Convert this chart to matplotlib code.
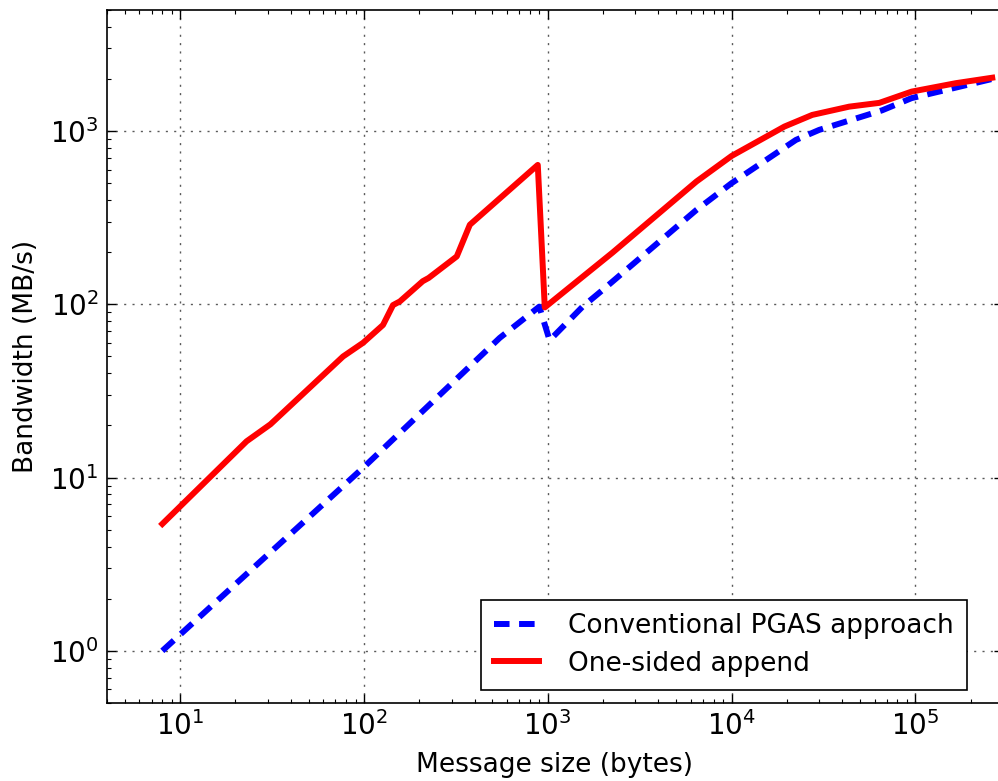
"""Bandwidth vs message size: conventional PGAS vs one-sided append."""

import matplotlib

matplotlib.use("Agg")
import matplotlib.pyplot as plt

FONT_SIZE = 19
TICK_SIZE = 20
DPI = 100

# values (bytes, MB/s)
append_sizes = [8, 23, 31, 77, 99, 127, 144, 157, 209, 225, 320, 377, 883,
                964, 2254, 6450, 10000, 19400, 27500, 43700, 63700, 95500,
                166000, 262144]
append_bw = [5.4, 16.2, 20.3, 50, 60, 76, 99, 104, 136, 142, 189, 288, 638,
             96, 199, 512, 718, 1062, 1240, 1384, 1455, 1690, 1890, 2033]

pgas_sizes = [8, 100, 548, 900, 1024, 1549, 1990, 6450, 10000, 22400, 30000,
              66000, 95500, 262144]
pgas_bw = [1.0, 11.5, 64, 97, 62, 97, 121, 351, 500, 889, 1016, 1318, 1550,
           2000]

plt.rcParams["font.family"] = "DejaVu Sans"
plt.rcParams["font.size"] = FONT_SIZE
plt.rcParams["mathtext.fontset"] = "dejavusans"

fig = plt.figure(figsize=(9.98, 7.81), dpi=DPI)
ax = fig.add_axes([0.1072, 0.0999, 0.8978, 0.8873])

ax.plot(pgas_sizes, pgas_bw, color="#0000ff", linewidth=4.3,
        dashes=(2.6, 1.6), dash_capstyle="butt",
        label="Conventional PGAS approach")
ax.plot(append_sizes, append_bw, color="#ff0000", linewidth=4.3,
        solid_joinstyle="round", label="One-sided append")

ax.set_xscale("log")
ax.set_yscale("log")
ax.set_xlim(4, 3.0e5)
ax.set_ylim(0.5, 5000)

ax.grid(True, which="major", color="0.35", linestyle=(0, (1.5, 4.5)),
        linewidth=1.0)
ax.tick_params(which="both", direction="in", top=True, right=True,
               labelsize=TICK_SIZE)
ax.tick_params(which="major", length=6.5, width=1, pad=6)
ax.tick_params(which="minor", length=3, width=0.8)
for spine in ax.spines.values():
    spine.set_linewidth(1.2)

ax.set_xlabel("Message size (bytes)", fontsize=FONT_SIZE, labelpad=8)
ax.set_ylabel("Bandwidth (MB/s)", fontsize=FONT_SIZE, labelpad=8)

leg = ax.legend(loc="lower right", bbox_to_anchor=(0.96, 0.019),
                borderaxespad=0, fontsize=FONT_SIZE, fancybox=False,
                edgecolor="black", framealpha=1, handlelength=1.7,
                handletextpad=1.1, borderpad=0.5, labelspacing=0.45)
leg.get_frame().set_linewidth(1.2)

fig.savefig("out.png", dpi=DPI)
plt.close(fig)
